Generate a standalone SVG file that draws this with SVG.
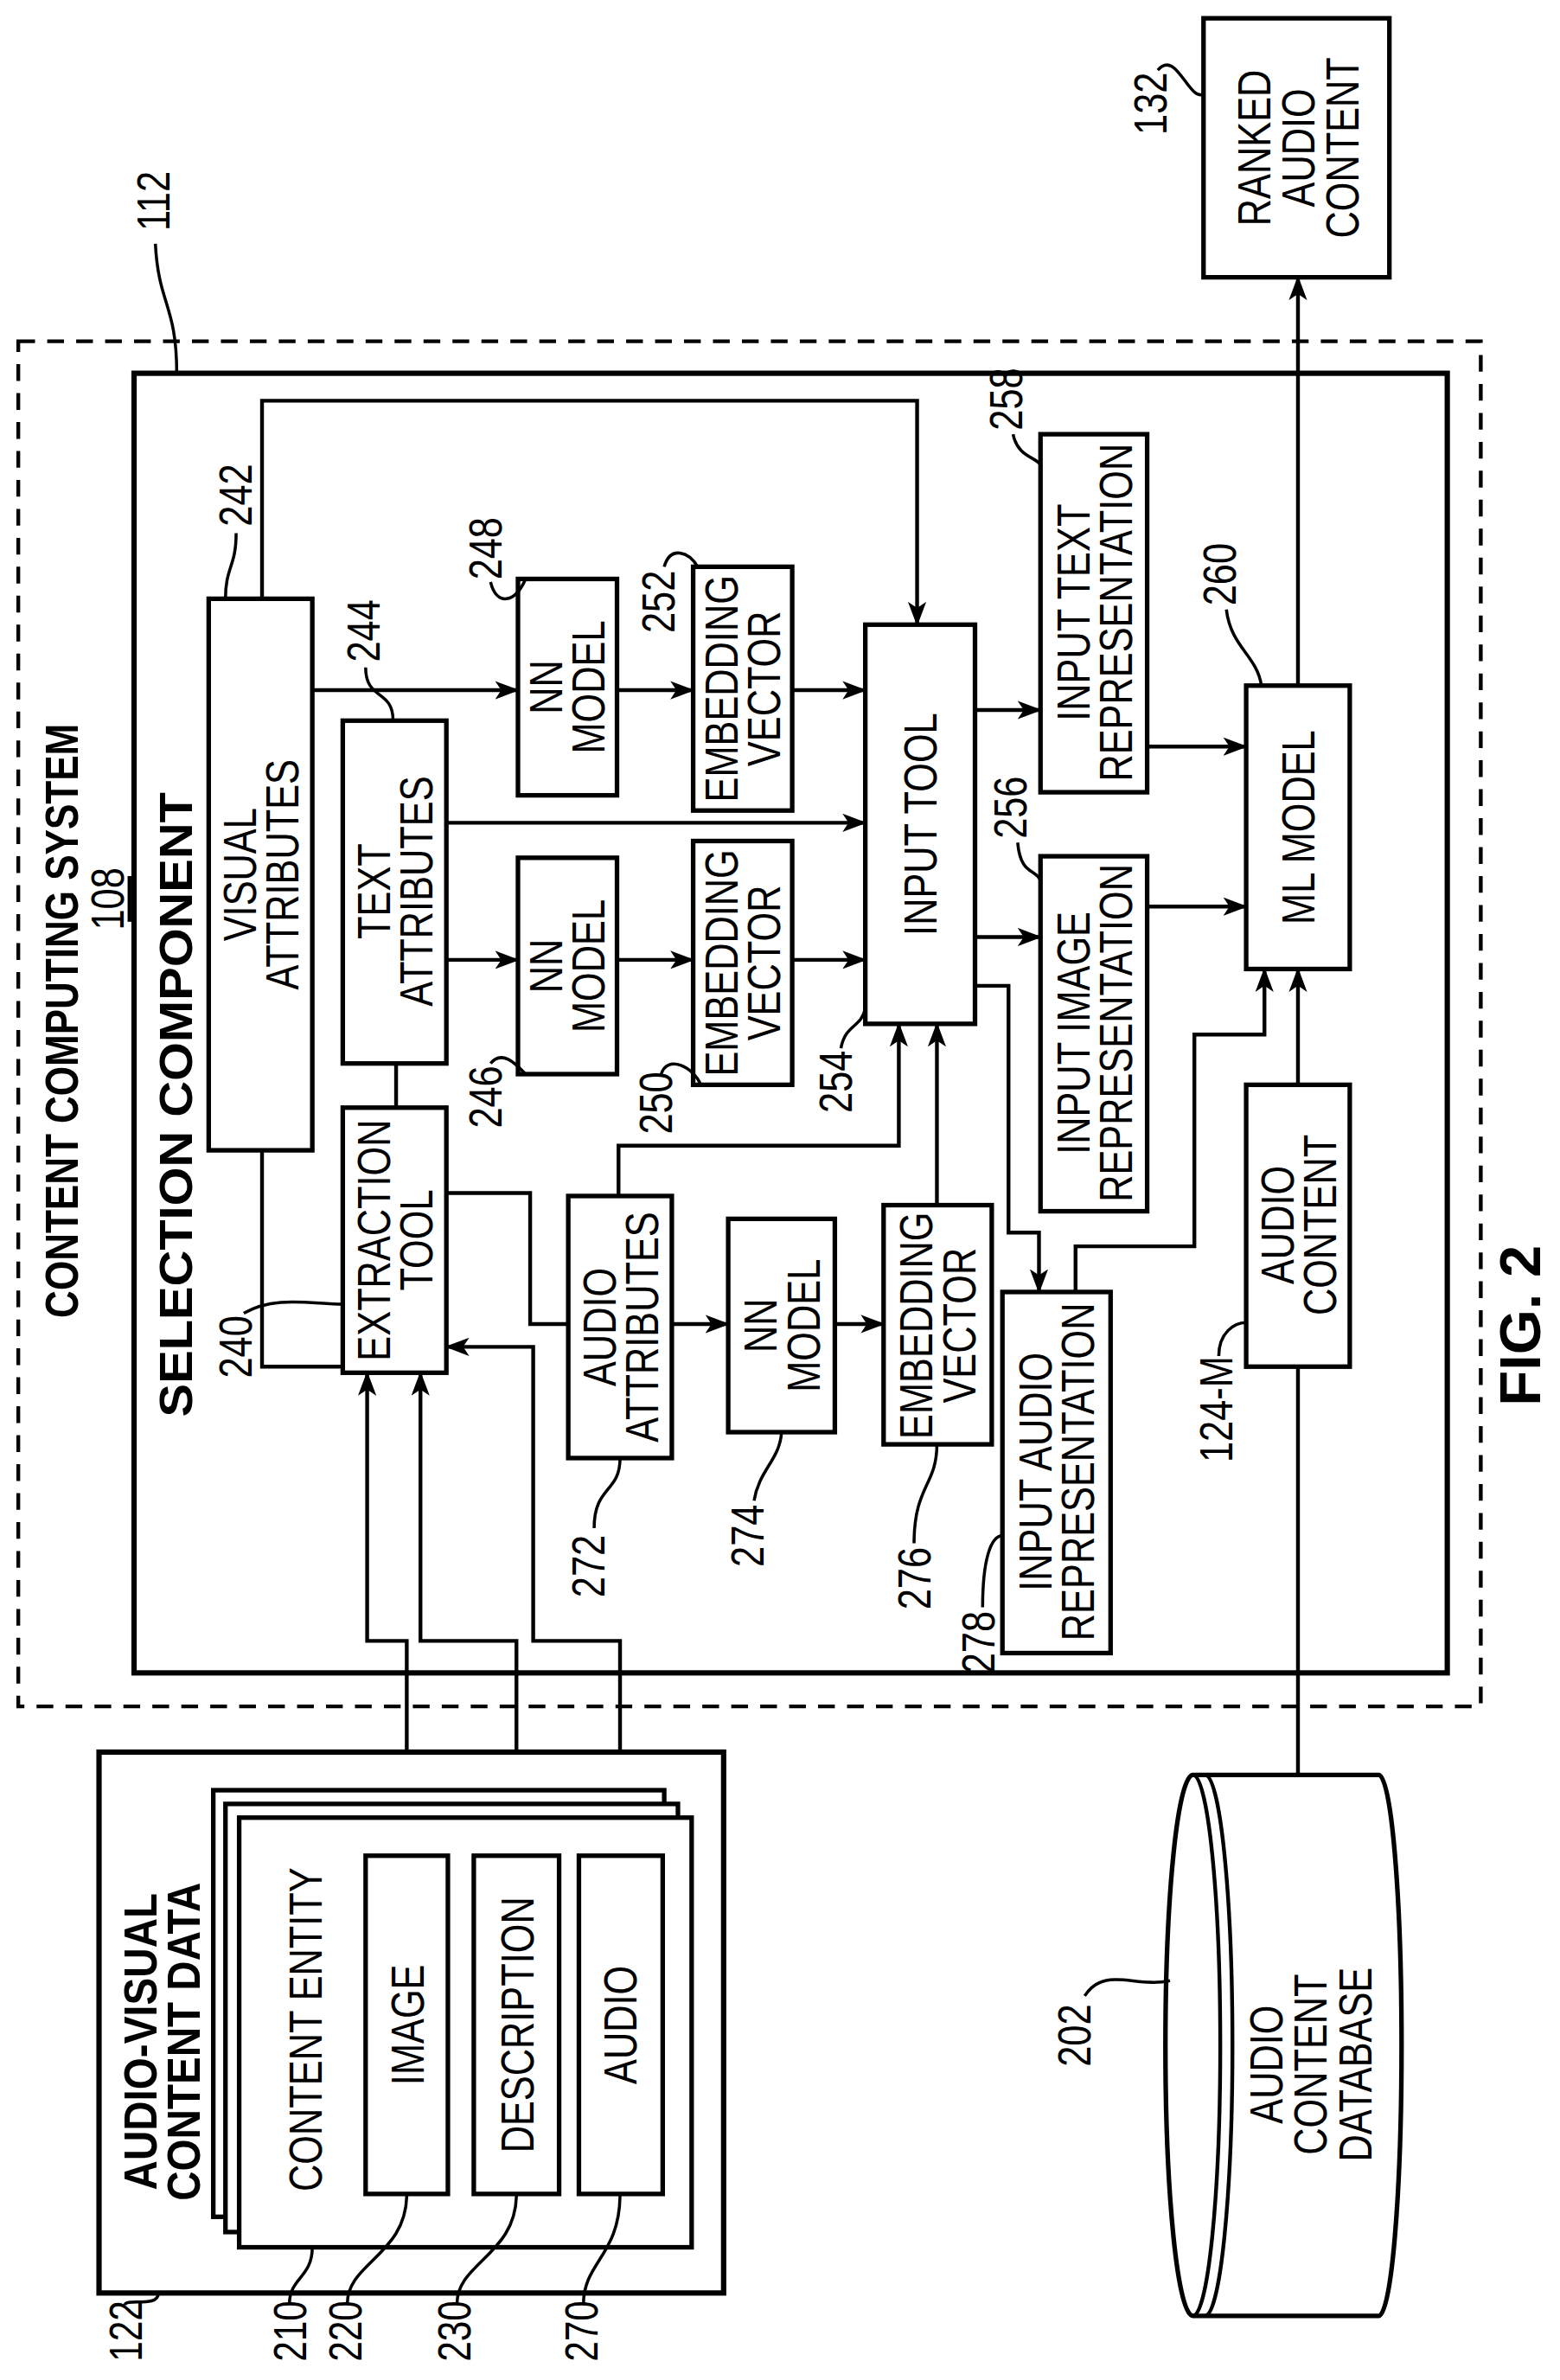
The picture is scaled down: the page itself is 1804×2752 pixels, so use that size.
<svg xmlns="http://www.w3.org/2000/svg" width="1804" height="2752" viewBox="0 0 1804 2752">
<defs>
<marker id="ah" markerUnits="userSpaceOnUse" markerWidth="16" markerHeight="12" refX="15" refY="6" orient="auto"><path d="M0,0 L16,6 L0,12 L4,6 Z" fill="#000"/></marker>
<style>
.b{fill:#fff;stroke:#000;stroke-width:3}
.c{fill:none;stroke:#000;stroke-width:2.5}
.a{fill:none;stroke:#000;stroke-width:2.5;marker-end:url(#ah)}
.l{fill:none;stroke:#000;stroke-width:2}
text{font-family:"Liberation Sans Narrow","Liberation Sans",Arial,sans-serif;font-size:30px;text-anchor:middle}
.bd{font-weight:bold}
</style>
</defs>
<rect width="1804" height="2752" fill="#fff"/>
<g transform="scale(1.76172)">
<g id="system">
<rect x="12" y="224" width="960" height="896" fill="none" stroke="#000" stroke-width="2.5" stroke-dasharray="11,8"/>
<text class="bd" transform="translate(40,670) rotate(-90)" y="11" textLength="390" lengthAdjust="spacingAndGlyphs">CONTENT COMPUTING SYSTEM</text>
<text transform="translate(70,590) rotate(-90) scale(0.82,1)" y="11">108</text>
<line x1="85" y1="575" x2="85" y2="605" stroke="#000" stroke-width="2.5"/>
<path class="l" d="M102,160 C104,200 116,200 116,245"/>
<text transform="translate(100,132) rotate(-90) scale(0.82,1)" y="11">112</text>
</g>
<g id="selection">
<rect x="88" y="245" width="862" height="853" fill="none" stroke="#000" stroke-width="3.5"/>
<text class="bd" transform="translate(115,725) rotate(-90)" y="11" textLength="410" lengthAdjust="spacingAndGlyphs">SELECTION COMPONENT</text>
</g>
<g id="connectors">
<polyline class="a" points="172,393 172,263 602,263 602,410"/>
<polyline class="c" points="172,755 172,897 225,897"/>
<line class="c" x1="260" y1="698" x2="260" y2="727"/>
<line class="a" x1="205" y1="453" x2="340" y2="453"/>
<line class="a" x1="405" y1="453" x2="455" y2="453"/>
<line class="a" x1="520" y1="453" x2="568" y2="453"/>
<line class="a" x1="293" y1="540" x2="568" y2="540"/>
<line class="a" x1="293" y1="630" x2="340" y2="630"/>
<line class="a" x1="405" y1="630" x2="455" y2="630"/>
<line class="a" x1="520" y1="630" x2="568" y2="630"/>
<line class="a" x1="640" y1="466" x2="683" y2="466"/>
<line class="a" x1="640" y1="615" x2="683" y2="615"/>
<line class="a" x1="753" y1="490" x2="818" y2="490"/>
<line class="a" x1="753" y1="595" x2="818" y2="595"/>
<line class="a" x1="852" y1="450" x2="852" y2="182"/>
<line class="a" x1="852" y1="712" x2="852" y2="636"/>
<line class="c" x1="852" y1="1165" x2="852" y2="897"/>
<polyline class="c" points="293,783 348,783 348,869 373,869"/>
<line class="a" x1="441" y1="869" x2="478" y2="869"/>
<line class="a" x1="548" y1="869" x2="580" y2="869"/>
<polyline class="a" points="406,785 406,752 590,752 590,672"/>
<line class="a" x1="615" y1="791" x2="615" y2="672"/>
<polyline class="a" points="640,647 662,647 662,809 682,809 682,848"/>
<polyline class="a" points="706,848 706,818 784,818 784,679 830,679 830,636"/>
<polyline class="a" points="267,1218 267,1077 241,1077 241,901"/>
<polyline class="a" points="339,1218 339,1077 276,1077 276,901"/>
<polyline class="a" points="407,1218 407,1077 350,1077 350,884 293,884"/>
</g>
<g id="visual-attributes"><rect class="b" x="137" y="393" width="68" height="362"/>
<text transform="translate(171,574) rotate(-90) scale(0.82,1)"><tspan x="0" y="-3">VISUAL</tspan><tspan x="0" y="25">ATTRIBUTES</tspan></text>
<path class="l" d="M148,393 C148,372 155,372 155,350"/><text transform="translate(154,325) rotate(-90) scale(0.82,1)" y="11">242</text></g>
<g id="text-attributes"><rect class="b" x="225" y="473" width="68" height="225"/>
<text transform="translate(259,585) rotate(-90) scale(0.82,1)"><tspan x="0" y="-3">TEXT</tspan><tspan x="0" y="25">ATTRIBUTES</tspan></text>
<path class="l" d="M240,438 C240,460 258,452 258,473"/><text transform="translate(238,414) rotate(-90) scale(0.82,1)" y="11">244</text></g>
<g id="extraction-tool"><rect class="b" x="225" y="727" width="68" height="174"/>
<text transform="translate(259,814) rotate(-90) scale(0.82,1)"><tspan x="0" y="-3">EXTRACTION</tspan><tspan x="0" y="25">TOOL</tspan></text>
<path class="l" d="M160,862 C180,850 205,856 225,856"/><text transform="translate(154,884) rotate(-90) scale(0.82,1)" y="11">240</text></g>
<g id="nn-248"><rect class="b" x="340" y="380" width="65" height="142"/>
<text transform="translate(372,451) rotate(-90) scale(0.82,1)"><tspan x="0" y="-3">NN</tspan><tspan x="0" y="25">MODEL</tspan></text>
<path class="l" d="M322,382 C326,398 338,396 345,380"/><text transform="translate(318,360) rotate(-90) scale(0.82,1)" y="11">248</text></g>
<g id="emb-252"><rect class="b" x="455" y="372" width="65" height="160"/>
<text transform="translate(487,452) rotate(-90) scale(0.82,1)"><tspan x="0" y="-3">EMBEDDING</tspan><tspan x="0" y="25">VECTOR</tspan></text>
<path class="l" d="M436,372 C440,358 452,362 458,372"/><text transform="translate(432,395) rotate(-90) scale(0.82,1)" y="11">252</text></g>
<g id="nn-246"><rect class="b" x="340" y="563" width="65" height="142"/>
<text transform="translate(372,634) rotate(-90) scale(0.82,1)"><tspan x="0" y="-3">NN</tspan><tspan x="0" y="25">MODEL</tspan></text>
<path class="l" d="M322,698 C330,688 340,700 345,705"/><text transform="translate(318,720) rotate(-90) scale(0.82,1)" y="11">246</text></g>
<g id="emb-250"><rect class="b" x="455" y="552" width="65" height="160"/>
<text transform="translate(487,632) rotate(-90) scale(0.82,1)"><tspan x="0" y="-3">EMBEDDING</tspan><tspan x="0" y="25">VECTOR</tspan></text>
<path class="l" d="M434,705 C438,692 455,700 460,712"/><text transform="translate(430,724) rotate(-90) scale(0.82,1)" y="11">250</text></g>
<g id="input-tool"><rect class="b" x="568" y="410" width="72" height="262"/>
<text transform="translate(604,541) rotate(-90) scale(0.82,1)" y="11">INPUT TOOL</text>
<path class="l" d="M552,688 C555,672 565,675 568,662"/><text transform="translate(548,710) rotate(-90) scale(0.82,1)" y="11">254</text></g>
<g id="input-text-rep"><rect class="b" x="683" y="285" width="70" height="235"/>
<text transform="translate(718,402) rotate(-90) scale(0.82,1)"><tspan x="0" y="-3">INPUT TEXT</tspan><tspan x="0" y="25">REPRESENTATION</tspan></text>
<path class="l" d="M665,285 C668,300 680,300 683,305"/><text transform="translate(660,262) rotate(-90) scale(0.82,1)" y="11">258</text></g>
<g id="input-image-rep"><rect class="b" x="683" y="562" width="70" height="233"/>
<text transform="translate(718,678) rotate(-90) scale(0.82,1)"><tspan x="0" y="-3">INPUT IMAGE</tspan><tspan x="0" y="25">REPRESENTATION</tspan></text>
<path class="l" d="M668,553 C670,575 680,570 683,578"/><text transform="translate(663,530) rotate(-90) scale(0.82,1)" y="11">256</text></g>
<g id="ml-model"><rect class="b" x="818" y="450" width="68" height="186"/>
<text transform="translate(852,543) rotate(-90) scale(0.82,1)" y="11">ML MODEL</text>
<path class="l" d="M805,400 C808,425 825,430 828,450"/><text transform="translate(800,377) rotate(-90) scale(0.82,1)" y="11">260</text></g>
<g id="audio-content"><rect class="b" x="818" y="712" width="68" height="185"/>
<text transform="translate(852,804) rotate(-90) scale(0.82,1)"><tspan x="0" y="-3">AUDIO</tspan><tspan x="0" y="25">CONTENT</tspan></text>
<path class="l" d="M800,890 C800,875 810,868 818,868"/><text transform="translate(798,925) rotate(-90) scale(0.82,1)" y="11">124-M</text></g>
<g id="audio-attributes"><rect class="b" x="373" y="785" width="68" height="172"/>
<text transform="translate(407,871) rotate(-90) scale(0.82,1)"><tspan x="0" y="-3">AUDIO</tspan><tspan x="0" y="25">ATTRIBUTES</tspan></text>
<path class="l" d="M407,957 C407,980 390,975 390,1003"/><text transform="translate(386,1028) rotate(-90) scale(0.82,1)" y="11">272</text></g>
<g id="nn-274"><rect class="b" x="478" y="800" width="70" height="140"/>
<text transform="translate(513,870) rotate(-90) scale(0.82,1)"><tspan x="0" y="-3">NN</tspan><tspan x="0" y="25">MODEL</tspan></text>
<path class="l" d="M495,985 C498,965 512,958 513,940"/><text transform="translate(490,1008) rotate(-90) scale(0.82,1)" y="11">274</text></g>
<g id="emb-276"><rect class="b" x="580" y="791" width="71" height="157"/>
<text transform="translate(615,870) rotate(-90) scale(0.82,1)"><tspan x="0" y="-3">EMBEDDING</tspan><tspan x="0" y="25">VECTOR</tspan></text>
<path class="l" d="M615,948 C615,975 600,975 600,1013"/><text transform="translate(600,1036) rotate(-90) scale(0.82,1)" y="11">276</text></g>
<g id="input-audio-rep"><rect class="b" x="658" y="848" width="71" height="237"/>
<text transform="translate(693,966) rotate(-90) scale(0.82,1)"><tspan x="0" y="-3">INPUT AUDIO</tspan><tspan x="0" y="25">REPRESENTATION</tspan></text>
<path class="l" d="M645,1055 C645,1025 650,1008 658,1008"/><text transform="translate(642,1078) rotate(-90) scale(0.82,1)" y="11">278</text></g>
<g id="ranked"><rect class="b" x="790" y="12" width="122" height="170"/>
<text transform="translate(852,97) rotate(-90) scale(0.82,1)"><tspan x="0" y="-18">RANKED</tspan><tspan x="0" y="11">AUDIO</tspan><tspan x="0" y="40">CONTENT</tspan></text>
<path class="l" d="M760,46 C772,32 780,66 790,62"/><text transform="translate(755,68) rotate(-90) scale(0.82,1)" y="11">132</text></g>
<g id="av-data"><rect x="65" y="1150" width="410" height="355" fill="#fff" stroke="#000" stroke-width="3.5"/>
<text class="bd" transform="translate(106,1340) rotate(-90) scale(0.9,1)"><tspan x="0" y="-3">AUDIO-VISUAL</tspan><tspan x="0" y="25">CONTENT DATA</tspan></text>
<rect class="b" x="140" y="1175" width="296" height="280"/>
<rect class="b" x="148" y="1184" width="297" height="281"/>
<rect class="b" x="157" y="1193" width="297" height="282"/>
<text transform="translate(200,1332) rotate(-90) scale(0.82,1)" y="11">CONTENT ENTITY</text>
<rect class="b" x="240" y="1218" width="54" height="222"/><text transform="translate(267,1329) rotate(-90) scale(0.82,1)" y="11">IMAGE</text>
<rect class="b" x="311" y="1218" width="56" height="222"/><text transform="translate(339,1329) rotate(-90) scale(0.82,1)" y="11">DESCRIPTION</text>
<rect class="b" x="380" y="1218" width="55" height="222"/><text transform="translate(407,1329) rotate(-90) scale(0.82,1)" y="11">AUDIO</text>
<path class="l" d="M104,1505 C104,1515 82,1508 82,1513"/><text transform="translate(82,1530) rotate(-90) scale(0.8,1)" y="11">122</text>
<path class="l" d="M205,1475 C205,1495 190,1495 190,1512"/><text transform="translate(190,1530) rotate(-90) scale(0.8,1)" y="11">210</text>
<path class="l" d="M267,1440 C267,1480 228,1485 228,1512"/><text transform="translate(226,1530) rotate(-90) scale(0.8,1)" y="11">220</text>
<path class="l" d="M339,1440 C339,1480 300,1485 300,1512"/><text transform="translate(298,1530) rotate(-90) scale(0.8,1)" y="11">230</text>
<path class="l" d="M407,1440 C407,1480 383,1485 383,1512"/><text transform="translate(381,1530) rotate(-90) scale(0.8,1)" y="11">270</text></g>
<g id="database">
<path d="M783,1165 L905,1165 A15,177.5 0 0 1 905,1520 L783,1520 A18,177.5 0 0 1 783,1165 Z" fill="#fff" stroke="#000" stroke-width="3"/>
<path class="c" d="M783,1165 A18,177.5 0 0 1 783,1520"/>
<path class="c" d="M791,1165 A18,177.5 0 0 1 791,1520"/>
<text transform="translate(860,1355) rotate(-90) scale(0.82,1)"><tspan x="0" y="-18">AUDIO</tspan><tspan x="0" y="11">CONTENT</tspan><tspan x="0" y="40">DATABASE</tspan></text>
<path class="l" d="M712,1310 C725,1290 745,1305 768,1300"/><text transform="translate(705,1336) rotate(-90) scale(0.82,1)" y="11">202</text></g>
<text class="bd" transform="translate(998,870) rotate(-90)" y="13" style="font-size:38px">FIG. 2</text>
</g>
</svg>
